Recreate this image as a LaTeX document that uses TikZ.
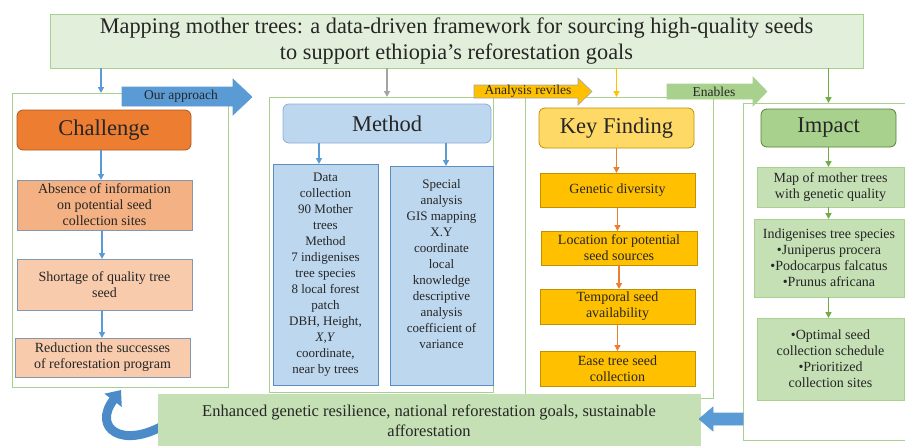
\documentclass[tikz,border=0pt]{standalone}
\usepackage{fontspec}
\setmainfont{Liberation Serif}
\usetikzlibrary{arrows.meta}
\definecolor{txtc}{HTML}{262626}
\definecolor{titlefill}{HTML}{E2EFDA}
\definecolor{lgreen}{HTML}{A9D18E}
\definecolor{mgreen}{HTML}{70AD47}
\definecolor{dgreen}{HTML}{548235}
\definecolor{pgreen}{HTML}{C5E0B4}
\definecolor{bluec}{HTML}{5B9BD5}
\definecolor{dblue}{HTML}{41719C}
\definecolor{lblue}{HTML}{BDD7EE}
\definecolor{mblue}{HTML}{8FAADC}
\definecolor{sblue}{HTML}{5B8DC0}
\definecolor{orangec}{HTML}{ED7D31}
\definecolor{dorange}{HTML}{AE5A21}
\definecolor{lorange}{HTML}{F4B183}
\definecolor{porange}{HTML}{F8CBAD}
\definecolor{grayb}{HTML}{8497B0}
\definecolor{goldc}{HTML}{FFC000}
\definecolor{lgold}{HTML}{FFD966}
\definecolor{dgold}{HTML}{BF9000}
\definecolor{grayc}{HTML}{A5A5A5}
\definecolor{curvec}{HTML}{4A8BC8}
\begin{document}
\begin{tikzpicture}[x=1pt,y=-1pt,
  txt/.style={text=txtc, align=center, inner sep=0pt, outer sep=0pt},
  fnt/.style={font=\fontsize{14}{16}\selectfont},
  head/.style={font=\fontsize{22.5}{26}\selectfont},
  small/.style={font=\fontsize{13.5}{14}\selectfont},
  box/.style={txt, draw, line width=0.8pt},
  frame/.style={draw=lgreen, line width=0.8pt, inner sep=0pt, outer sep=0pt},
  conn/.style={line width=1.4pt, -{Triangle[width=6pt,length=6pt]}},
  blockarrow/.style={line width=0.6pt}
]
\useasboundingbox (0,0) rectangle (905,445);

% title
\node[box, draw=lgreen, fill=titlefill, minimum width=813, minimum height=54,
      font=\fontsize{22.3}{26}\selectfont] (title) at (456.5,41)
  {Mapping mother trees: a data-driven framework for sourcing high-quality seeds\\to support ethiopia’s reforestation goals};

% frames
\node[frame, minimum width=216, minimum height=294] (cframe) at (120,240) {};
\node[frame, minimum width=224, minimum height=295] (mframe) at (381,244.5) {};
\node[frame, minimum width=188, minimum height=301] (kframe) at (619,247.5) {};
\node[frame, minimum width=170, minimum height=337] (iframe) at (828,271.5) {};

% challenge column
\node[box, draw=dorange, fill=orangec, rounded corners=6pt, minimum width=174, minimum height=40, head] (chal) at (104,130) {Challenge};
\node[box, draw=grayb, fill=lorange, minimum width=175, minimum height=50, fnt] (c1) at (104.5,205) {Absence of information\\on potential seed\\collection sites};
\node[box, draw=grayb, fill=porange, minimum width=175, minimum height=51, fnt] (c2) at (104.5,284.5) {Shortage of quality tree\\seed};
\node[box, draw=grayb, fill=porange, minimum width=175, minimum height=39, fnt] (c3) at (102.5,357.5) {Reduction the successes\\of reforestation program};

% method column
\node[box, draw=mblue, fill=lblue, rounded corners=6pt, minimum width=208, minimum height=39, head] (meth) at (387,123.5) {Method};
\node[box, draw=sblue, fill=lblue, minimum width=105, minimum height=221, font=\fontsize{13}{16}\selectfont] (m1) at (325.5,274.5)
  {Data\\collection\\90 Mother\\trees\\Method\\7 indigenises\\tree species\\8 local forest\\patch\\DBH, Height,\\\textit{X,Y}\\coordinate,\\near by trees};
\node[box, draw=sblue, fill=lblue, minimum width=103, minimum height=219] (m2) at (441.5,275.5) {};
\node[txt, anchor=north, font=\fontsize{13}{16}\selectfont] (m2t) at (441.5,179)
  {Special\\analysis\\GIS mapping\\X.Y\\coordinate\\local\\knowledge\\descriptive\\analysis\\coefficient of\\variance};

% key finding column
\node[box, draw=dgold, fill=lgold, rounded corners=6pt, minimum width=155, minimum height=40, head] (key) at (616.5,128) {Key Finding};
\node[box, draw=dgold, fill=goldc, minimum width=155, minimum height=34, fnt] (k1) at (617.5,190) {Genetic diversity};
\node[box, draw=dgold, fill=goldc, minimum width=156, minimum height=34, fnt] (k2) at (619,248) {Location for potential\\seed sources};
\node[box, draw=dgold, fill=goldc, minimum width=155, minimum height=35, fnt] (k3) at (617.5,306.5) {Temporal seed\\availability};
\node[box, draw=dgold, fill=goldc, minimum width=155, minimum height=35, fnt] (k4) at (617.5,368.5) {Ease tree seed\\collection};

% impact column
\node[box, draw=dgreen, fill=lgreen, rounded corners=6pt, minimum width=135, minimum height=38, head] (imp) at (828.5,128) {Impact};
\node[box, draw=lgreen, fill=pgreen, minimum width=147, minimum height=40, fnt] (i1) at (830.5,187) {Map of mother trees\\with genetic quality};
\node[box, draw=lgreen, fill=pgreen, minimum width=150, minimum height=78, fnt] (i2) at (829,258) {Indigenises tree species\\•Juniperus procera\\•Podocarpus falcatus\\•Prunus africana};
\node[box, draw=lgreen, fill=pgreen, minimum width=147, minimum height=82, fnt] (i3) at (830.5,359) {•Optimal seed\\collection schedule\\•Prioritized\\collection sites};

% curved arrow (under the bottom box)
\draw[curvec, line width=9pt, -{Triangle[width=21pt,length=13pt]}] (166,424) .. controls (122,450) and (92,428) .. (121,390);

% bottom box
\node[box, draw=pgreen, fill=pgreen, minimum width=542, minimum height=54, font=\fontsize{16.5}{20}\selectfont] (enh) at (429,421)
  {Enhanced genetic resilience, national reforestation goals, sustainable\\afforestation};

% connectors from title
\path (101,0) coordinate (xc) (319,0) coordinate (xm1) (446,0) coordinate (xm2);
\draw[conn, bluec] (title.south -| xc) -- (cframe.north -| xc);
\draw[conn, grayc] (title.south -| meth.north) -- (mframe.north -| meth.north);
\draw[conn, goldc] (title.south -| key.north) -- (kframe.north -| key.north);
\draw[conn, mgreen] (title.south -| imp.north) -- (iframe.north -| imp.north);

% challenge connectors
\draw[conn, bluec] (chal.south -| xc) -- (c1.north -| xc);
\draw[conn, bluec] (c1.south) ++(-2.5,0) coordinate (c1s) -- (c2.north -| c1s);
\draw[conn, bluec] (c2.south) ++(-2.5,0) coordinate (c2s) -- (c3.north -| c2s);

% method connectors
\draw[conn, bluec] (meth.south -| xm1) -- (m1.north -| xm1);
\draw[conn, bluec] (meth.south -| xm2) -- (m2.north -| xm2);

% key connectors
\draw[conn, orangec] (key.south) -- (k1.north -| key.south);
\draw[conn, orangec] (k1.south) -- (k2.north -| k1.south);
\draw[conn, orangec] (k2.south) -- (k3.north -| k2.south);
\draw[conn, orangec] (k3.south) -- (k4.north -| k3.south);

% impact connectors
\draw[conn, mgreen] (imp.south) -- (i1.north -| imp.south);
\draw[conn, mgreen] (i1.south -| imp.south) -- (i2.north -| imp.south);
\draw[conn, mgreen] (i2.south -| imp.south) -- (i3.north -| imp.south);

% block arrows
\filldraw[blockarrow, fill=bluec, draw=bluec] (122,87) -- (233,87) -- (233,79) -- (252,97) -- (233,115) -- (233,106) -- (122,106) -- cycle;
\node[txt, small] (oa) at (181,96.5) {Our approach};
\filldraw[blockarrow, fill=goldc, draw=grayc] (474,85) -- (578,85) -- (578,78) -- (592,91.5) -- (578,105) -- (578,98) -- (474,98) -- cycle;
\node[txt, small] (ar) at (528,91.5) {Analysis reviles};
\filldraw[blockarrow, fill=lgreen, draw=lgreen] (667,84) -- (753,84) -- (753,77) -- (767,91.5) -- (753,106) -- (753,99) -- (667,99) -- cycle;
\node[txt, small] (en) at (714,91.5) {Enables};
\filldraw[blockarrow, fill=bluec, draw=bluec] (iframe.west |- 0,413) -- (713,413) -- (713,407) -- (699,419) -- (713,431) -- (713,425) -- (iframe.west |- 0,425) -- cycle;

\end{tikzpicture}
\end{document}
